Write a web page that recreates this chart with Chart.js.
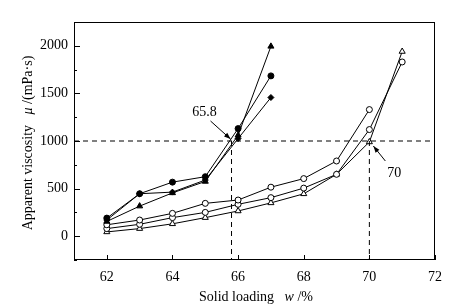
<!DOCTYPE html>
<html>
<head>
<meta charset="utf-8">
<script src="https://cdn.jsdelivr.net/npm/chart.js@4/dist/chart.umd.min.js"></script>
<style>
  html, body { margin: 0; padding: 0; background: #fff; }
  #wrap { width: 468px; height: 308px; }
</style>
</head>
<body>
<div id="wrap"><canvas id="viscChart" width="468" height="308"></canvas></div>
<script>
const solidLoading = [62, 63, 64, 65, 66, 67, 68, 69, 70, 71];

// filled markers (first group)
const filledCircle = [190, 446, 568, 625, 1130, 1684];
const filledTriangle = [155, 316, 455, 575, 1060, 1994];
const filledDiamond = [170, 446, 463, 590, 1025, 1457];

// hollow markers (second group)
const hollowCircle = [120, 170, 240, 345, 380, 515, 605, 790, 1330];
const hollowDiamond = [80, 125, 195, 250, 335, 405, 505, 650, 1120, 1830];
const hollowTriangle = [45, 80, 130, 195, 265, 350, 445, 650, 990, 1940];

const xTicks = [62, 64, 66, 68, 70, 72];
const yTicks = [0, 500, 1000, 1500, 2000];
const yMinorTicks = [-250, 250, 750, 1250, 1750, 2250];

const refLevel = [1000];
const refPoints = [65.8, 70];

const FONT = '"Liberation Serif", "DejaVu Serif", serif';

function toPoints(values) {
  return values.map((v, i) => ({ x: solidLoading[i], y: v }));
}

function series(values, shape, filled) {
  return {
    data: toPoints(values),
    borderColor: '#000',
    borderWidth: 1,
    backgroundColor: filled ? '#000' : '#fff',
    pointBorderColor: '#000',
    pointBackgroundColor: filled ? '#000' : '#fff',
    pointBorderWidth: 1,
    pointStyle: shape,
    pointRadius: shape === 'triangle' ? 3.5 : 3,
    showLine: true,
    tension: 0
  };
}

function dashed(points) {
  return {
    data: points,
    borderColor: '#000',
    borderWidth: 1,
    borderDash: [5, 4],
    pointRadius: 0,
    showLine: true,
    fill: false
  };
}

const dashSets = [
  dashed([{ x: 61, y: refLevel[0] }, { x: 72, y: refLevel[0] }]),
  dashed([{ x: refPoints[0], y: refLevel[0] }, { x: refPoints[0], y: -250 }]),
  dashed([{ x: refPoints[1], y: refLevel[0] }, { x: refPoints[1], y: -250 }])
];

function drawMixed(ctx, parts, x, y) {
  // parts: [text, italic]; centered at x
  let total = 0;
  parts.forEach(p => {
    ctx.font = (p[1] ? 'italic ' : '') + '14px ' + FONT;
    total += ctx.measureText(p[0]).width;
  });
  let cx = x - total / 2;
  parts.forEach(p => {
    ctx.font = (p[1] ? 'italic ' : '') + '14px ' + FONT;
    ctx.fillText(p[0], cx, y);
    cx += ctx.measureText(p[0]).width;
  });
}

function arrow(ctx, x1, y1, x2, y2) {
  ctx.beginPath();
  ctx.moveTo(x1, y1);
  ctx.lineTo(x2, y2);
  ctx.stroke();
  const a = Math.atan2(y2 - y1, x2 - x1);
  ctx.beginPath();
  ctx.moveTo(x2, y2);
  ctx.lineTo(x2 - 7 * Math.cos(a - 0.35), y2 - 7 * Math.sin(a - 0.35));
  ctx.lineTo(x2 - 7 * Math.cos(a + 0.35), y2 - 7 * Math.sin(a + 0.35));
  ctx.closePath();
  ctx.fill();
}

const framePlugin = {
  id: 'frame',
  afterDatasetsDraw(chart) {
    const { ctx, chartArea: ca, scales } = chart;
    ctx.save();
    ctx.strokeStyle = '#000';
    ctx.fillStyle = '#000';
    ctx.lineWidth = 1;
    ctx.strokeRect(ca.left + 0.5, ca.top + 0.5, ca.right - ca.left - 1, ca.bottom - ca.top - 1);

    ctx.beginPath();
    xTicks.forEach(v => {
      const px = Math.round(scales.x.getPixelForValue(v)) + 0.5;
      ctx.moveTo(px, ca.bottom);
      ctx.lineTo(px, ca.bottom - 5);
    });
    yTicks.forEach(v => {
      const py = Math.round(scales.y.getPixelForValue(v)) + 0.5;
      ctx.moveTo(ca.left, py);
      ctx.lineTo(ca.left + 6, py);
    });
    yMinorTicks.forEach(v => {
      const py = Math.round(scales.y.getPixelForValue(v)) + 0.5;
      ctx.moveTo(ca.left, py);
      ctx.lineTo(ca.left + 3, py);
    });
    ctx.stroke();

    // annotations
    ctx.textBaseline = 'middle';
    ctx.textAlign = 'center';
    ctx.font = '14px ' + FONT;
    const h = scales.y.getPixelForValue(refLevel[0]);
    const a1 = scales.x.getPixelForValue(refPoints[0]);
    const a2 = scales.x.getPixelForValue(refPoints[1]);
    ctx.fillText('65.8', a1 - 27, h - 29);
    arrow(ctx, a1 - 21, h - 20, a1 - 1, h - 2);
    ctx.fillText('70', a2 + 25, h + 32);
    arrow(ctx, a2 + 16, h + 20, a2 + 4, h + 5);

    // axis titles
    ctx.textAlign = 'left';
    ctx.textBaseline = 'alphabetic';
    drawMixed(ctx, [['Solid loading   ', false], ['w', true], [' /%', false]], 256, 301);
    ctx.translate(32, 143);
    ctx.rotate(-Math.PI / 2);
    drawMixed(ctx, [['Apparent viscosity   ', false], ['\u03bc', true], [' /(mPa\u00b7s)', false]], 0, 0);
    ctx.restore();
  }
};

const ctx = document.getElementById('viscChart').getContext('2d');
const viscChart = new Chart(ctx, {
  type: 'scatter',
  data: {
    datasets: [
      ...dashSets,
      series(filledCircle, 'circle', true),
      series(filledTriangle, 'triangle', true),
      series(filledDiamond, 'rectRot', true),
      series(hollowCircle, 'circle', false),
      series(hollowDiamond, 'circle', false),
      series(hollowTriangle, 'triangle', false)
    ]
  },
  options: {
    responsive: false,
    animation: false,
    layout: { padding: { left: 0, top: 22, right: 33, bottom: 0 } },
    plugins: { legend: { display: false }, tooltip: { enabled: false } },
    scales: {
      x: {
        type: 'linear',
        min: 61,
        max: 72,
        afterBuildTicks: s => { s.ticks = xTicks.map(v => ({ value: v })); },
        afterFit: s => { s.height = 48; },
        grid: { display: false, drawTicks: false },
        border: { display: false },
        ticks: { color: '#000', padding: 9, font: { family: FONT, size: 14 }, callback: v => String(v) }
      },
      y: {
        type: 'linear',
        min: -250,
        max: 2250,
        afterBuildTicks: s => { s.ticks = yTicks.map(v => ({ value: v })); },
        afterFit: s => { s.width = 74; },
        grid: { display: false, drawTicks: false },
        border: { display: false },
        ticks: { color: '#000', padding: 6, font: { family: FONT, size: 14 }, callback: v => String(v) }
      }
    }
  },
  plugins: [framePlugin]
});
</script>
</body>
</html>
